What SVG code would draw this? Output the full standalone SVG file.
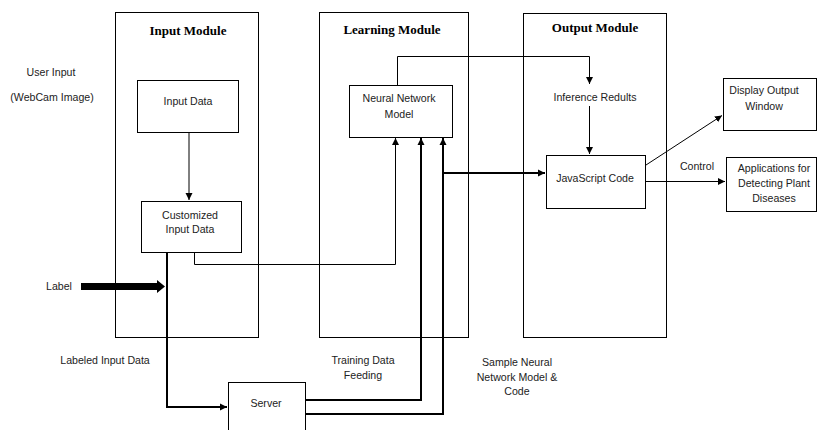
<svg xmlns="http://www.w3.org/2000/svg" width="817" height="430" viewBox="0 0 817 430">
<defs>
<marker id="ah" markerWidth="8" markerHeight="8" refX="7" refY="4" orient="auto" markerUnits="userSpaceOnUse">
<path d="M0,0.5 L7,4 L0,7.5 Z" fill="#000"/>
</marker>
<style>
.box{fill:#fff;stroke:#000;stroke-width:1}
.mod{fill:none;stroke:#000;stroke-width:1}
.t{font-family:"Liberation Sans",Arial,sans-serif;font-size:10.6px;fill:#222;text-anchor:middle}
.ti{font-family:"Liberation Serif","Times New Roman",serif;font-size:13px;font-weight:bold;fill:#000;text-anchor:middle}
.c{fill:none;stroke:#000;stroke-width:1}
.ck{fill:none;stroke:#000;stroke-width:2}
</style>
</defs>
<rect width="817" height="430" fill="#fff"/>

<g id="input-module">
<rect class="mod" x="115.5" y="12.5" width="143" height="325"/>
<text class="ti" x="188" y="35">Input Module</text>
</g>
<g id="learning-module">
<rect class="mod" x="319.5" y="12.5" width="149" height="325"/>
<text class="ti" x="392" y="34">Learning Module</text>
</g>
<g id="output-module">
<rect class="mod" x="523.5" y="13.5" width="143" height="324"/>
<text class="ti" x="595" y="32">Output Module</text>
</g>

<g id="user-input">
<text class="t" x="51" y="76">User Input</text>
<text class="t" x="52" y="101">(WebCam Image)</text>
</g>
<g id="input-data">
<rect class="box" x="137.5" y="80.5" width="101" height="52"/>
<text class="t" x="188" y="105">Input Data</text>
</g>
<g id="customized">
<rect class="box" x="141.5" y="201.5" width="100" height="51"/>
<text class="t" x="190" y="219">Customized</text>
<text class="t" x="190" y="233">Input Data</text>
</g>
<g id="neural">
<rect class="box" x="349.5" y="85.5" width="103" height="52"/>
<text class="t" x="399" y="102">Neural Network</text>
<text class="t" x="399" y="118">Model</text>
</g>
<g id="inference">
<text class="t" x="595" y="101">Inference Redults</text>
</g>
<g id="javascript">
<rect class="box" x="546.5" y="155.5" width="99" height="53"/>
<text class="t" x="595" y="182">JavaScript Code</text>
</g>
<g id="display">
<rect class="box" x="723.5" y="78.5" width="93" height="52"/>
<text class="t" x="764" y="94">Display Output</text>
<text class="t" x="764" y="110">Window</text>
</g>
<g id="apps">
<rect class="box" x="726.5" y="157.5" width="90" height="54"/>
<text class="t" x="774" y="172">Applications for</text>
<text class="t" x="774" y="187">Detecting Plant</text>
<text class="t" x="774" y="202">Diseases</text>
</g>
<g id="server">
<rect class="box" x="228.5" y="382.5" width="77" height="50"/>
<text class="t" x="266" y="407">Server</text>
</g>
<g id="label">
<text class="t" x="59" y="290">Label</text>
</g>

<g id="connectors">
<line class="c" x1="189" y1="132" x2="189" y2="200" marker-end="url(#ah)"/>
<polyline class="c" points="194.5,252 194.5,264.5 395.5,264.5 395.5,138" marker-end="url(#ah)"/>
<polygon points="81,283 157,283 157,280 165,286.5 157,293 157,290 81,290" fill="#000"/>
<polyline class="ck" points="167,252 167,407 227,407" marker-end="url(#ah)"/>
<polyline class="ck" points="305,400 421,400 421,138" marker-end="url(#ah)"/>
<polyline class="ck" points="305,414 443,414 443,138" marker-end="url(#ah)"/>
<polyline class="ck" points="443,173 545,173" marker-end="url(#ah)"/>
<polyline class="c" points="397.5,85 397.5,56.5 589.5,56.5 589.5,84" marker-end="url(#ah)"/>
<line class="c" x1="589.5" y1="106" x2="589.5" y2="154" marker-end="url(#ah)"/>
<line class="c" x1="646" y1="165" x2="722" y2="115.5" marker-end="url(#ah)"/>
<line class="c" x1="646" y1="181.5" x2="725" y2="181.5" marker-end="url(#ah)"/>
<text class="t" x="697" y="170">Control</text>
<text class="t" x="105" y="364">Labeled Input Data</text>
<text class="t" x="363" y="364">Training Data</text>
<text class="t" x="363" y="379">Feeding</text>
<text class="t" x="517" y="366">Sample Neural</text>
<text class="t" x="517" y="381">Network Model &amp;</text>
<text class="t" x="517" y="395">Code</text>
</g>
</svg>
